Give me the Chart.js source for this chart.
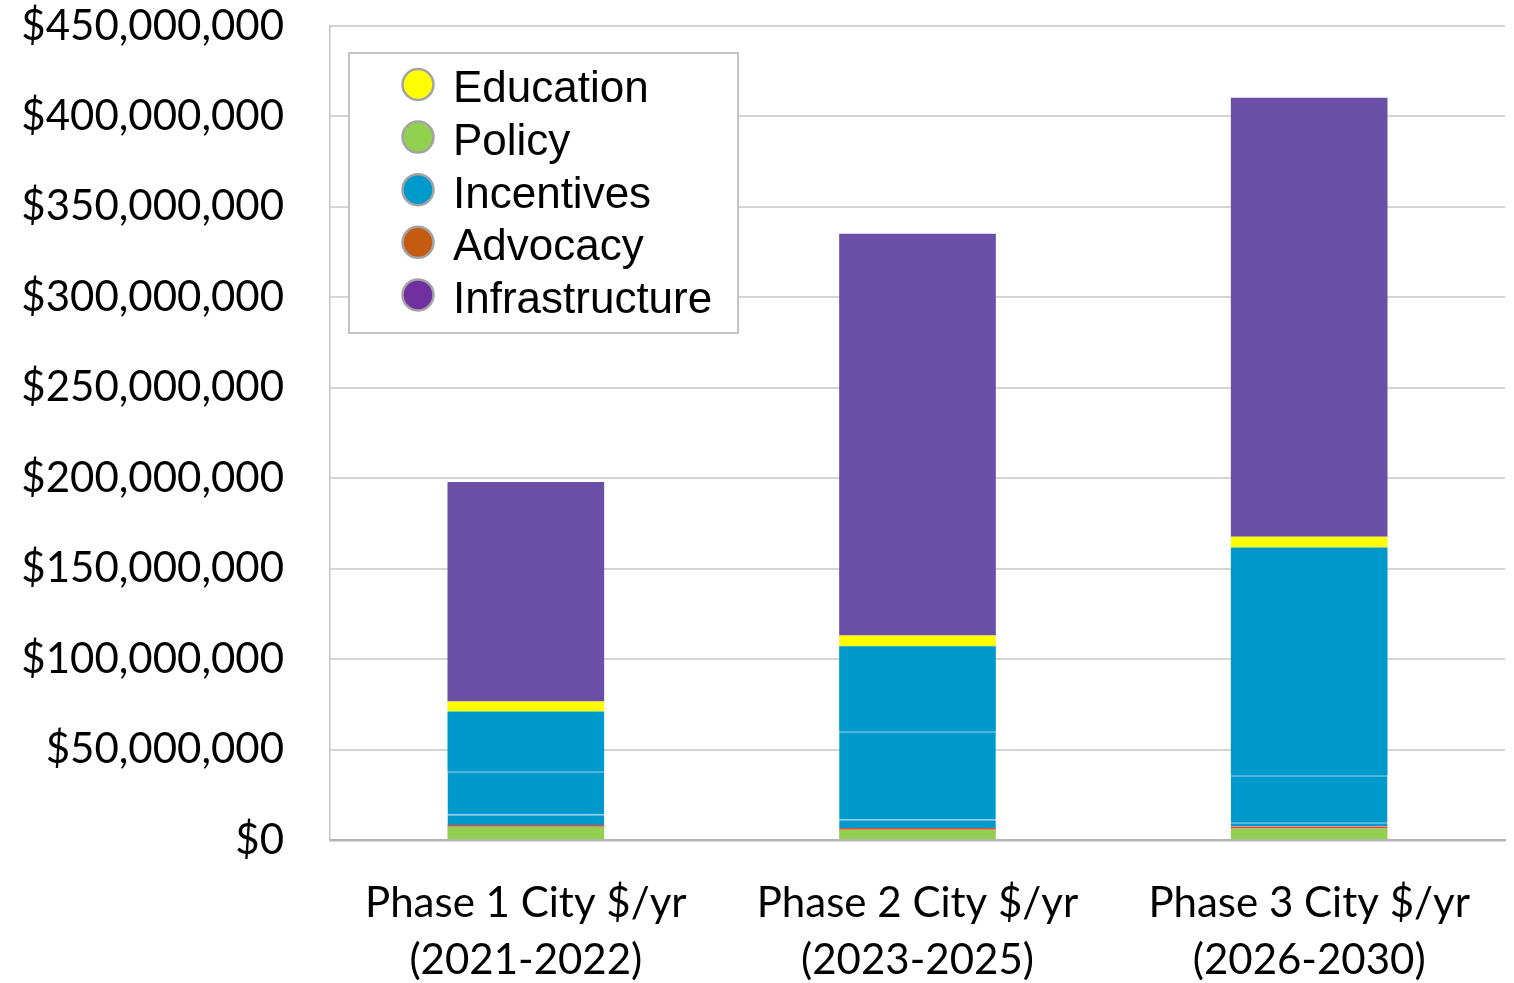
<!DOCTYPE html>
<html>
<head>
<meta charset="utf-8">
<script src="https://cdn.jsdelivr.net/npm/chart.js@4"></script>
<style>
  html, body { margin: 0; padding: 0; background: #ffffff; }
  #wrap { width: 1514px; height: 983px; }
</style>
</head>
<body>
<div id="wrap"><canvas id="c" width="1514" height="983"></canvas></div>
<script>
// ---- data (values in millions of dollars per year) ----
const categories = [
  ['Phase 1 City $/yr', '(2021-2022)'],
  ['Phase 2 City $/yr', '(2023-2025)'],
  ['Phase 3 City $/yr', '(2026-2030)']
];
const policy = [7.3, 5.7, 6.4];
const advocacy = [1.0, 1.0, 1.0];
const incentivesA = [6.0, 4.8, 2.5];
const incentivesB = [23.9, 48.8, 26.0];
const incentivesC = [32.8, 46.8, 125.8];
const education = [5.5, 5.9, 5.9];
const infrastructure = [121.4, 222.1, 242.7];

const yTickValues = [0, 50, 100, 150, 200, 250, 300, 350, 400, 450];
const legendLabels = ['Education', 'Policy', 'Incentives', 'Advocacy', 'Infrastructure'];
const legendColors = ['#FFFF00', '#92D050', '#0099CC', '#C55A11', '#7030A0'];

const AXIS_FONT = 'Lato';

function seg(label, data, color, topBorder, topColor) {
  return {
    label: label,
    data: data,
    backgroundColor: color,
    borderColor: topColor || color,
    borderWidth: {top: topBorder, left: 0, right: 0, bottom: 0},
    borderSkipped: false,
    stack: 's',
    categoryPercentage: 1.0,
    barPercentage: 0.4
  };
}

const datasets = [
  seg('Policy', policy, '#92D050', 0),
  seg('Advocacy', advocacy, '#E8473B', 0),
  seg('Incentives', incentivesA, '#0099CC', 1.5, '#4DB3DB'),
  seg('Incentives', incentivesB, '#0099CC', 1.5, '#4DB3DB'),
  seg('Incentives', incentivesC, '#0099CC', 0),
  seg('Education', education, '#FFFF00', 0),
  seg('Infrastructure', infrastructure, '#6A4FA7', 0)
];

const legendPlugin = {
  id: 'boxLegend',
  afterDraw(chart) {
    const ctx = chart.ctx;
    ctx.save();
    ctx.strokeStyle = '#c4c4c4';
    ctx.lineWidth = 2;
    ctx.fillStyle = '#ffffff';
    ctx.fillRect(349, 53, 389, 280);
    ctx.strokeRect(349, 53, 389, 280);
    ctx.font = '44px "Liberation Sans", Arial, sans-serif';
    ctx.textAlign = 'left';
    ctx.textBaseline = 'alphabetic';
    legendLabels.forEach((lab, i) => {
      const cy = 84.5 + i * 52.6;
      ctx.beginPath();
      ctx.arc(418, cy, 15.5, 0, Math.PI * 2);
      ctx.fillStyle = legendColors[i];
      ctx.fill();
      ctx.lineWidth = 2.5;
      ctx.strokeStyle = '#a3a3a3';
      ctx.stroke();
      ctx.fillStyle = '#000000';
      ctx.fillText(lab, 453, cy + 17.8);
    });
    ctx.restore();
  }
};

new Chart(document.getElementById('c'), {
  type: 'bar',
  data: { labels: categories, datasets: datasets },
  plugins: [legendPlugin],
  options: {
    responsive: false,
    animation: false,
    devicePixelRatio: 1,
    layout: { padding: { top: 26, right: 9, bottom: 0, left: 0 } },
    plugins: { legend: { display: false }, tooltip: { enabled: false } },
    scales: {
      x: {
        stacked: true,
        grid: { display: false, drawTicks: false },
        border: { display: true, color: '#b4b4b4', width: 2.5 },
        ticks: {
          color: '#000000',
          padding: 34.5,
          maxRotation: 0,
          autoSkip: false,
          font: { family: AXIS_FONT, size: 42, lineHeight: 57 / 42 }
        },
        afterFit(s) { s.height = 143; s.paddingLeft = 0; s.paddingRight = 0; }
      },
      y: {
        stacked: true,
        min: 0,
        max: 450,
        afterBuildTicks(s) { s.ticks = yTickValues.map(v => ({ value: v })); },
        grid: { color: '#d4d4d4', lineWidth: 2, drawTicks: false },
        border: { display: true, color: '#c4c4c4', width: 1.5 },
        ticks: {
          color: '#000000',
          padding: 46,
          font: { family: AXIS_FONT, size: 42 },
          callback: v => '$' + (v * 1000000).toLocaleString('en-US')
        },
        afterFit(s) { s.width = 330; s.paddingTop = 0; s.paddingBottom = 0; }
      }
    }
  }
});
</script>
</body>
</html>
